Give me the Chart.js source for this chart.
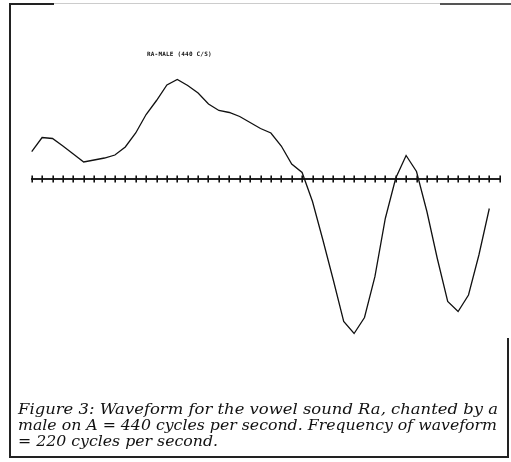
<!DOCTYPE html>
<html>
<head>
<meta charset="utf-8">
<script src="https://cdn.jsdelivr.net/npm/chart.js@4/dist/chart.umd.min.js"></script>
<style>
  html, body { margin: 0; padding: 0; background: #fff; }
  #wrap { position: relative; width: 511px; height: 462px; overflow: hidden; background: #fff; }
  #c { position: absolute; left: 0; top: 0; }
  .fr { position: absolute; background: #222; }
  #ttl { position: absolute; left: 147px; top: 50px; font: bold 6px "DejaVu Sans Mono", monospace; color: #111; white-space: nowrap; letter-spacing: 0.2px; }
  .cap { position: absolute; left: 18px; font: italic 15.5px "DejaVu Serif", serif; line-height: 15.5px; color: #111; white-space: nowrap; transform-origin: 0 0; }
</style>
</head>
<body>
<div id="wrap">
  <canvas id="c" width="511" height="462"></canvas>
  <div class="fr" style="left:9px;top:3px;width:2px;height:455px;"></div>
  <div class="fr" style="left:9px;top:456px;width:500px;height:2px;"></div>
  <div class="fr" style="left:507px;top:338px;width:1.5px;height:120px;"></div>
  <div class="fr" style="left:9px;top:3px;width:45px;height:1.5px;"></div>
  <div class="fr" style="left:54px;top:3px;width:386px;height:1px;background:#ccc;"></div>
  <div class="fr" style="left:440px;top:3px;width:71px;height:1.5px;background:#555;"></div>
  <div id="ttl">RA-MALE (440 C/S)</div>
  <div class="cap" id="l1" style="top:402px;">Figure 3: Waveform for the vowel sound Ra, chanted by a</div>
  <div class="cap" id="l2" style="top:418px;">male on A = 440 cycles per second. Frequency of waveform</div>
  <div class="cap" id="l3" style="top:433.5px;">= 220 cycles per second.</div>
</div>
<script>
// Sample positions (tick marks along the zero axis)
const samples = ['0','1','2','3','4','5','6','7','8','9','10','11','12','13','14','15','16','17','18','19','20','21','22','23','24','25','26','27','28','29','30','31','32','33','34','35','36','37','38','39','40','41','42','43','44','45'];
// Waveform amplitude (arbitrary units, 0 = axis)
const amplitude = [27.3, 41.5, 40.5, 33, 25, 17, 19, 21, 24, 32, 46, 64.5, 78.5, 94, 99.5, 93.5, 86, 75, 68.5, 66.5, 62.5, 56.5, 50.5, 46, 33, 15, 6.5, -22.5, -61, -101, -142.5, -154.5, -138.5, -97.7, -39.5, 0.7, 23.5, 7.5, -32.5, -79.5, -122.5, -132.5, -116, -76, -29.5, null];
const yMin = -170, yMax = 160;

const tickMarks = {
  id: 'tickMarks',
  afterDatasetsDraw(chart) {
    const xs = chart.scales.x, ys = chart.scales.y;
    const y0 = ys.getPixelForValue(0);
    const ctx = chart.ctx;
    ctx.save();
    ctx.strokeStyle = '#111';
    ctx.lineWidth = 1.6;
    samples.forEach((s, i) => {
      const x = Math.round(xs.getPixelForValue(i)) + 0.2;
      ctx.beginPath();
      ctx.moveTo(x, y0 - 3.5);
      ctx.lineTo(x, y0 + 3.5);
      ctx.stroke();
    });
    ctx.restore();
  }
};

new Chart(document.getElementById('c'), {
  type: 'line',
  data: {
    labels: samples,
    datasets: [{
      data: amplitude,
      borderColor: '#111',
      borderWidth: 1.3,
      pointRadius: 0,
      tension: 0,
      fill: false
    }]
  },
  options: {
    responsive: false,
    animation: false,
    layout: { padding: { left: 31.7, right: 11.3, top: 19, bottom: 113 } },
    plugins: { legend: { display: false }, tooltip: { enabled: false }, title: { display: false } },
    scales: {
      x: {
        type: 'category',
        position: { y: 0 },
        offset: false,
        grid: { display: true, drawOnChartArea: false, drawTicks: false },
        border: { display: true, color: '#222', width: 2 },
        ticks: { display: false }
      },
      y: { display: false, min: yMin, max: yMax }
    }
  },
  plugins: [tickMarks]
});

// fit caption lines to the widths seen in the reference
[['l1', 480], ['l2', 479], ['l3', 200]].forEach(([id, w]) => {
  const el = document.getElementById(id);
  const r = el.getBoundingClientRect();
  el.style.transform = 'scaleX(' + (w / r.width) + ')';
});
</script>
</body>
</html>
